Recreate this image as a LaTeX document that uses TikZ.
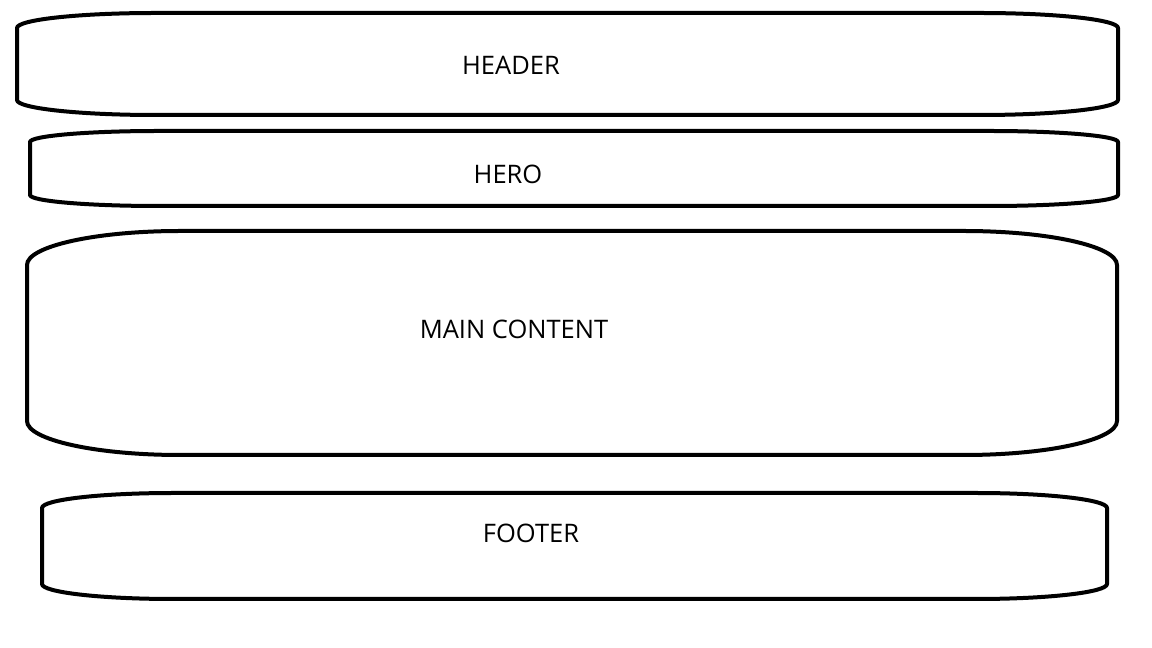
\documentclass[tikz,border=0pt]{standalone}
\usepackage{fontspec}
\setmainfont{Open Sans}

% outline of one page band: left, right, top, bottom, corner x radius, corner y radius
\newcommand{\bandoutline}[6]{%
  \draw[band] (#1,#3-#6)
    arc[start angle=180, end angle=90, x radius=#5pt, y radius=#6pt]
    -- (#2-#5,#3) arc[start angle=90, end angle=0, x radius=#5pt, y radius=#6pt]
    -- (#2,#4+#6) arc[start angle=0, end angle=-90, x radius=#5pt, y radius=#6pt]
    -- (#1+#5,#4) arc[start angle=270, end angle=180, x radius=#5pt, y radius=#6pt]
    -- cycle;}

\begin{document}
\begin{tikzpicture}[
  x=1pt, y=1pt,
  band/.style={draw=black, line width=4pt, line join=round},
  sectiontext/.style={
    inner sep=0pt, font=\fontsize{25.5}{30}\selectfont, text=black
  },
]

\useasboundingbox[fill=white] (0,0) rectangle (1152,648);

% Four stacked bands
\bandoutline{17}{1118}{635}{533}{138}{15}
\bandoutline{30}{1118}{517}{442}{128}{11}
\bandoutline{27}{1117}{417}{193}{153}{34}
\bandoutline{42}{1107}{155}{49}{131}{15}

% Band titles
\node[sectiontext] (header) at (511, 583) {HEADER};
\node[sectiontext] (hero) at (508, 474) {HERO};
\node[sectiontext] (maincontent) at (514, 319) {MAIN CONTENT};
\node[sectiontext] (footer) at (531, 115) {FOOTER};

\end{tikzpicture}
\end{document}
